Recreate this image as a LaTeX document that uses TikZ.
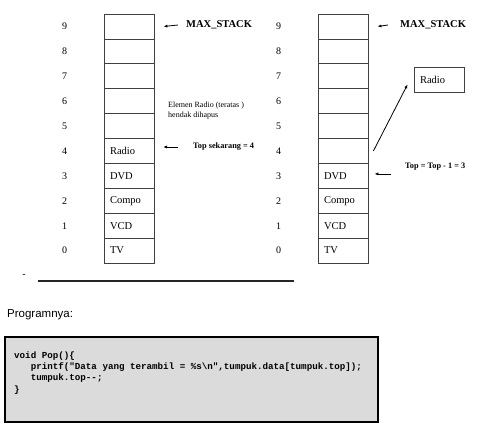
\documentclass[tikz,border=0pt]{standalone}
\usepackage{fontspec}
\setmainfont{Liberation Serif}
\setsansfont{Liberation Sans}
\setmonofont{Liberation Mono}
\usepackage{tikz}
\usetikzlibrary{arrows.meta,positioning}

\tikzset{
  cell/.style={draw=black!75, line width=0.8pt, minimum height=24.9pt, text width=38pt,
    inner xsep=6pt, inner ysep=0pt, align=left, font=\fontsize{10.5}{12}\selectfont},
  idx/.style={font=\fontsize{10}{12}\selectfont, label distance=33pt},
  note/.style={font=\bfseries\fontsize{10.5}{12}\selectfont, anchor=west, inner sep=0pt},
  smallnote/.style={font=\bfseries\fontsize{8.3}{10}\selectfont, anchor=west, inner sep=0pt},
  ptr/.style={-{Latex[length=4pt,width=3pt]}, line width=0.8pt},
}

\begin{document}
\begin{tikzpicture}[x=1pt,y=-1pt]
\useasboundingbox (0,0) rectangle (480,428);

%Left stack
\node[cell, label={[idx]left:9}] (L9) at (129,26.5) {};
\node[cell, label={[idx]left:8}] (L8) at (129,51.4) {};
\node[cell, label={[idx]left:7}] (L7) at (129,76.3) {};
\node[cell, label={[idx]left:6}] (L6) at (129,101.2) {};
\node[cell, label={[idx]left:5}] (L5) at (129,126.1) {};
\node[cell, label={[idx]left:4}] (L4) at (129,151.0) {Radio};
\node[cell, label={[idx]left:3}] (L3) at (129,175.9) {DVD};
\node[cell, label={[idx]left:2}] (L2) at (129,200.8) {Compo};
\node[cell, label={[idx]left:1}] (L1) at (129,225.7) {VCD};
\node[cell, label={[idx]left:0}] (L0) at (129,250.6) {TV};

%Right stack
\node[cell, label={[idx]left:9}] (R9) at (343,26.5) {};
\node[cell, label={[idx]left:8}] (R8) at (343,51.4) {};
\node[cell, label={[idx]left:7}] (R7) at (343,76.3) {};
\node[cell, label={[idx]left:6}] (R6) at (343,101.2) {};
\node[cell, label={[idx]left:5}] (R5) at (343,126.1) {};
\node[cell, label={[idx]left:4}] (R4) at (343,151.0) {};
\node[cell, label={[idx]left:3}] (R3) at (343,175.9) {DVD};
\node[cell, label={[idx]left:2}] (R2) at (343,200.8) {Compo};
\node[cell, label={[idx]left:1}] (R1) at (343,225.7) {VCD};
\node[cell, label={[idx]left:0}] (R0) at (343,250.6) {TV};

%Popped element
\node[cell] (radio) at (439,79.5) {Radio};

%Notes
\node[note] (maxL) at (186,25) {MAX\_STACK};
\node[note] (maxR) at (400,25) {MAX\_STACK};
\node[smallnote] (topL) at (193,147) {Top sekarang = 4};
\node[smallnote] (topR) at (405,167) {Top = Top - 1 = 3};
\node[anchor=north west, inner sep=0pt, align=left, font=\fontsize{8}{10}\selectfont] (hapus) at (168,101.5) {Elemen Radio (teratas )\\hendak dihapus};

%Pointers
\draw[ptr] ([xshift=-8pt]maxL.west) -- ([xshift=9pt]L9.east);
\draw[ptr] ([xshift=-12pt]maxR.west) -- ([xshift=9pt]R9.east);
\draw[ptr] ([xshift=-15pt]topL.west) -- ++(-15,0);
\draw[ptr] ([xshift=23pt,yshift=2pt]R3.east) -- ([xshift=6pt,yshift=2pt]R3.east);
\draw[ptr] ([xshift=5pt]R4.east) -- ([xshift=-6pt,yshift=8pt]radio.south west);

%Divider
\node[inner sep=0pt, font=\sffamily\fontsize{10}{12}\selectfont] (dash) at (24,276) {-};
\draw[line width=1.5pt, black!85] (38,281) -- (294,281);

%Program
\node[anchor=west, inner sep=0pt, font=\sffamily\fontsize{11.5}{13}\selectfont] (prog) at (7,315) {Programnya:};
\filldraw[fill=black!14, draw=black, line width=2.5pt] (5,337) rectangle (378,422);
\node[anchor=north west, inner sep=0pt, align=left, font=\ttfamily\bfseries\fontsize{9.2}{11.3}\selectfont] (pop) at (14,351.5)
  {void Pop()\{\\
   \phantom{xxx}printf("Data yang terambil = \%s\textbackslash n",tumpuk.data[tumpuk.top]);\\
   \phantom{xxx}tumpuk.top-{}-;\\
   \}};
\end{tikzpicture}
\end{document}
